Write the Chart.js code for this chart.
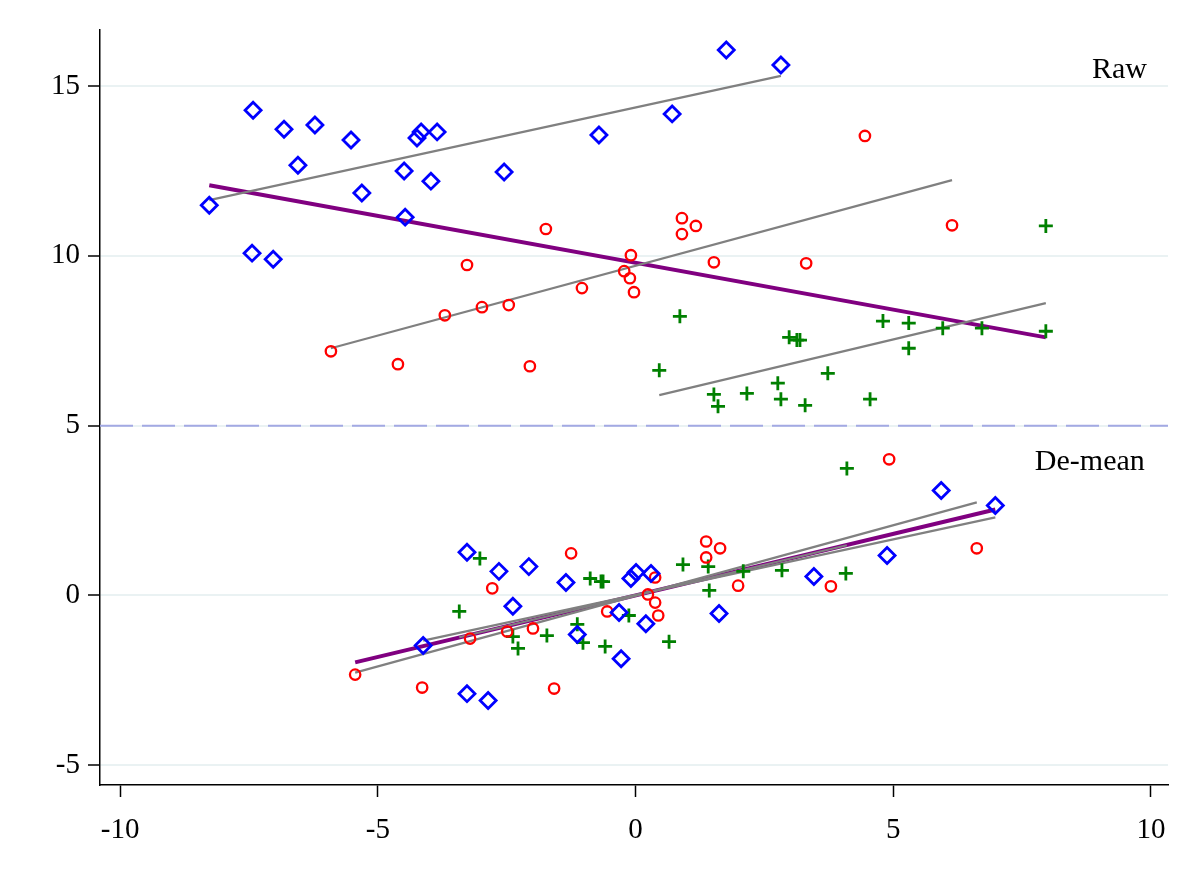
<!DOCTYPE html>
<html lang="en">

<head>
    <meta charset="UTF-8">
    <title>Raw vs De-mean</title>
    <script src="https://cdn.jsdelivr.net/npm/chart.js@4.4.1/dist/chart.umd.min.js"></script>
    <style>
        html, body {
            margin: 0;
            padding: 0;
            background: #ffffff;
        }

        .chart-box {
            width: 1200px;
            height: 873px;
        }
    </style>
</head>

<body>
    <div class="chart-box">
        <canvas id="chart"></canvas>
    </div>

    <script>
        // raw data, one group per marker
        const blueRawX = [-8.27, -7.42, -7.44, -7.03, -6.82, -6.55, -6.22, -5.52, -5.31, -4.49, -4.47, -4.24, -4.16, -3.97, -3.85, -2.55, -0.71, 0.71, 1.76, 2.82];
        const blueRawY = [11.49, 14.29, 10.08, 9.90, 13.73, 12.67, 13.85, 13.41, 11.85, 12.50, 11.14, 13.47, 13.65, 12.20, 13.65, 12.47, 13.56, 14.18, 16.06, 15.62];

        const redRawX = [-5.91, -4.61, -3.70, -3.27, -2.98, -2.46, -2.05, -1.74, -1.04, -0.22, -0.09, -0.11, -0.03, 0.90, 0.90, 1.17, 1.52, 3.31, 4.45, 6.14];
        const redRawY = [7.19, 6.81, 8.25, 9.73, 8.49, 8.55, 6.75, 10.79, 9.05, 9.55, 10.02, 9.34, 8.93, 11.11, 10.64, 10.88, 9.81, 9.78, 13.53, 10.90];

        const greenRawX = [0.46, 0.86, 1.52, 1.60, 2.16, 2.76, 2.82, 2.98, 3.13, 3.19, 3.29, 3.73, 4.55, 4.80, 5.30, 5.30, 5.96, 6.72, 7.96, 7.96];
        const greenRawY = [6.63, 8.22, 5.92, 5.57, 5.95, 6.25, 5.78, 7.60, 7.52, 7.52, 5.60, 6.54, 5.78, 8.08, 8.02, 7.28, 7.87, 7.87, 10.88, 7.78];

        // de-meaned data
        const blueDmX = [-3.27, -2.65, -2.07, -1.35, -2.38, -4.12, -3.27, -2.86, -1.13, -0.09, 0.01, 0.30, -0.32, 0.20, -0.28, 1.62, 3.46, 4.88, 5.93, 6.98];
        const blueDmY = [1.27, 0.71, 0.85, 0.38, -0.32, -1.47, -2.89, -3.09, -1.15, 0.50, 0.68, 0.65, -0.50, -0.83, -1.86, -0.53, 0.56, 1.18, 3.09, 2.65];

        const redDmX = [-1.25, -2.78, -0.55, -1.99, -2.49, -3.21, -5.44, -4.14, -1.58, 0.38, 0.24, 0.38, 0.44, 1.37, 1.64, 1.37, 1.99, 3.79, 4.92, 6.62];
        const redDmY = [1.24, 0.21, -0.47, -0.97, -1.06, -1.27, -2.33, -2.71, -2.74, 0.53, 0.03, -0.21, -0.59, 1.59, 1.39, 1.12, 0.29, 0.27, 4.01, 1.39];

        const greenDmX = [-3.02, -3.42, -2.38, -2.28, -1.72, -0.88, -0.67, -0.63, -1.13, -1.02, -0.59, -0.13, 0.65, 0.92, 1.41, 1.43, 2.09, 2.84, 4.08, 4.10];
        const greenDmY = [1.09, -0.47, -1.21, -1.56, -1.18, 0.50, 0.41, 0.41, -0.85, -1.39, -1.50, -0.59, -1.36, 0.91, 0.85, 0.15, 0.71, 0.74, 0.65, 3.74];

        // fitted lines (start / end)
        const fitBlueRawX = [-8.27, 2.82], fitBlueRawY = [11.64, 15.30];
        const fitRedRawX = [-5.91, 6.14], fitRedRawY = [7.28, 12.23];
        const fitGreenRawX = [0.46, 7.96], fitGreenRawY = [5.90, 8.61];
        const fitAllRawX = [-8.27, 7.96], fitAllRawY = [12.08, 7.60];

        const fitBlueDmX = [-4.12, 6.98], fitBlueDmY = [-1.33, 2.30];
        const fitRedDmX = [-5.44, 6.62], fitRedDmY = [-2.27, 2.74];
        const fitGreenDmX = [-3.42, 4.10], fitGreenDmY = [-1.23, 1.48];
        const fitAllDmX = [-5.44, 6.98], fitAllDmY = [-1.97, 2.53];

        // separator and panel labels
        const dividerY = 5;
        const panelLabels = ['Raw', 'De-mean'];
        const panelLabelX = [9.92, 9.88];
        const panelLabelY = [15.47, 3.92];

        const xTicks = [-10, -5, 0, 5, 10];
        const yTicks = [-5, 0, 5, 10, 15];
        const xMin = -10.39, xMax = 10.33;
        const yMin = -5.58, yMax = 16.65;

        const FONT = "'Liberation Serif', 'DejaVu Serif', serif";

        const pts = (xs, ys) => xs.map((x, i) => ({ x: x, y: ys[i] }));

        function scatterSet(xs, ys, color, style, radius, width) {
            return {
                type: 'scatter',
                data: pts(xs, ys),
                pointStyle: style,
                pointRadius: radius,
                pointBorderWidth: width,
                pointBorderColor: color,
                pointBackgroundColor: 'rgba(0,0,0,0)',
                borderColor: color,
                order: 1
            };
        }

        function lineSet(xs, ys, color, width, dash) {
            return {
                type: 'line',
                data: pts(xs, ys),
                borderColor: color,
                borderWidth: width,
                borderDash: dash || [],
                pointRadius: 0,
                fill: false,
                tension: 0,
                order: 2
            };
        }

        // draws "Raw" / "De-mean" in data space
        const panelText = {
            id: 'panelText',
            afterDatasetsDraw(chart) {
                const ctx = chart.ctx;
                const sx = chart.scales.x, sy = chart.scales.y;
                ctx.save();
                ctx.font = '30px ' + FONT;
                ctx.fillStyle = '#000';
                ctx.textAlign = 'right';
                ctx.textBaseline = 'middle';
                panelLabels.forEach((t, i) => {
                    ctx.fillText(t, sx.getPixelForValue(panelLabelX[i]), sy.getPixelForValue(panelLabelY[i]));
                });
                ctx.restore();
            }
        };

        const datasets = [
            lineSet([xMin, xMax], [dividerY, dividerY], '#a3a9e3', 2, [33, 9]),

            lineSet(fitBlueRawX, fitBlueRawY, '#808080', 2.2),
            lineSet(fitRedRawX, fitRedRawY, '#808080', 2.2),
            lineSet(fitGreenRawX, fitGreenRawY, '#808080', 2.2),
            lineSet(fitBlueDmX, fitBlueDmY, '#808080', 2.2),
            lineSet(fitRedDmX, fitRedDmY, '#808080', 2.2),
            lineSet(fitGreenDmX, fitGreenDmY, '#808080', 2.2),
            lineSet(fitAllRawX, fitAllRawY, '#800080', 4),
            lineSet(fitAllDmX, fitAllDmY, '#800080', 4),

            scatterSet(blueRawX, blueRawY, '#0000ff', 'rectRot', 8, 2.8),
            scatterSet(redRawX, redRawY, '#ff0000', 'circle', 5.2, 2.3),
            scatterSet(greenRawX, greenRawY, '#008000', 'cross', 7, 2.8),
            scatterSet(blueDmX, blueDmY, '#0000ff', 'rectRot', 8, 2.8),
            scatterSet(redDmX, redDmY, '#ff0000', 'circle', 5.2, 2.3),
            scatterSet(greenDmX, greenDmY, '#008000', 'cross', 7, 2.8)
        ];

        new Chart(document.getElementById('chart'), {
            data: { datasets: datasets },
            options: {
                responsive: true,
                maintainAspectRatio: false,
                animation: false,
                layout: { padding: { left: 0, right: 32, top: 30, bottom: 0 } },
                plugins: {
                    legend: { display: false },
                    tooltip: { enabled: false }
                },
                scales: {
                    x: {
                        type: 'linear',
                        min: xMin,
                        max: xMax,
                        afterFit: s => { s.height = 88; },
                        afterBuildTicks: s => { s.ticks = xTicks.map(v => ({ value: v })); },
                        grid: {
                            drawOnChartArea: false,
                            drawTicks: true,
                            tickLength: 12,
                            tickColor: '#000',
                            tickWidth: 1.5
                        },
                        border: { color: '#000', width: 1.5 },
                        ticks: {
                            color: '#000',
                            padding: 16,
                            maxRotation: 0,
                            font: { family: FONT, size: 29 }
                        }
                    },
                    y: {
                        type: 'linear',
                        min: yMin,
                        max: yMax,
                        afterFit: s => { s.width = 100; },
                        afterBuildTicks: s => { s.ticks = yTicks.map(v => ({ value: v })); },
                        grid: {
                            color: '#eaf2f3',
                            lineWidth: 2,
                            tickLength: 12,
                            tickColor: '#000',
                            tickWidth: 1.5
                        },
                        border: { color: '#000', width: 1.5 },
                        ticks: {
                            color: '#000',
                            padding: 8,
                            font: { family: FONT, size: 29 }
                        }
                    }
                }
            },
            plugins: [panelText]
        });
    </script>
</body>

</html>
